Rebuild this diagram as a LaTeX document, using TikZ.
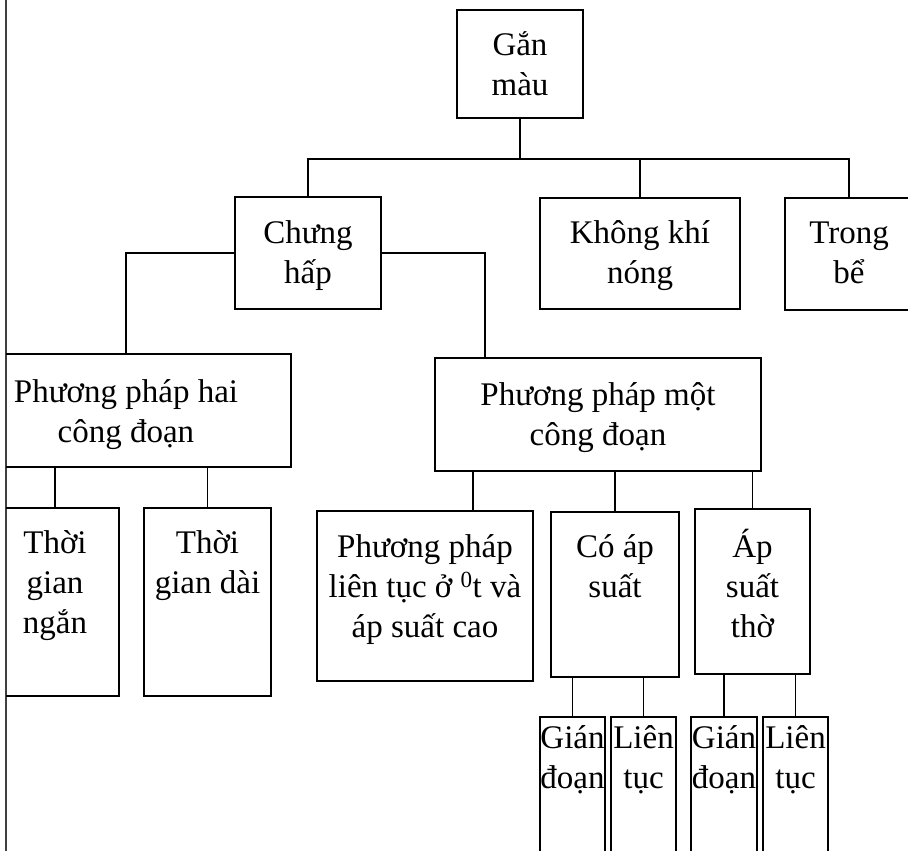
\documentclass[tikz,border=0pt]{standalone}
\usepackage{fontspec}
\setmainfont{Liberation Serif}
\usetikzlibrary{
    positioning,
    calc
}
\newcommand{\boxtext}[4]{\parbox[t][#2pt][t]{#1pt}{\centering\vspace*{#3pt}\strut #4}}

\begin{document}
\begin{tikzpicture}[
        x=1pt, y=-1pt,
        block/.style={draw, line width=1.8pt, inner sep=0pt, font=\fontsize{33}{40}\selectfont},
        link/.style={line width=1.4pt}
    ]
        \useasboundingbox (0,0) rectangle (908,851);

        % Page edge
        \coordinate (edgetop) at (6,0);
        \coordinate (edgebot) at (6,851);
        \draw[line width=1.5pt, black!75] (edgetop) -- (edgebot);

        \begin{scope}
        \clip (6,0) rectangle (908,851);

        % Root
        \node[block] (root) at (520,64) {\boxtext{126}{108}{18}{Gắn\\màu}};

        % First level
        \node[block] (chung) at (308,253) {\boxtext{146}{112}{18}{Chưng\\hấp}};
        \node[block] (khong) at (640,253.5) {\boxtext{200}{111}{17}{Không khí\\nóng}};
        \node[block] (trong) at (849,254) {\boxtext{128}{112}{17}{Trong\\bể}};

        % Steaming methods
        \node[block] (hai) at (126,410.5) {\boxtext{330}{113}{20}{Phương pháp hai\\công đoạn}};
        \node[block] (mot) at (598,414.5) {\boxtext{326}{113}{19}{Phương pháp một\\công đoạn}};

        % Two stage
        \node[block] (tgngan) at (55,602) {\boxtext{128}{188}{17}{Thời\\gian\\ngắn}};
        \node[block] (tgdai) at (207.5,602) {\boxtext{127}{188}{17}{Thời\\gian dài}};

        % One stage
        \node[block] (lientuc) at (425,596) {\boxtext{216}{170}{18}{Phương pháp\\liên tục ở \textsuperscript{0}t và\\áp suất cao}};
        \node[block] (coap) at (615,594.5) {\boxtext{128}{165}{17}{Có áp\\suất}};
        \node[block] (apthuong) at (752.5,591.5) {\boxtext{115}{165}{20}{Áp\\suất\\thờ}};

        % Batch / continuous
        \node[block] (gd1) at (572.5,800) {\boxtext{65}{166}{3}{Gián\\đoạn}};
        \node[block] (lt1) at (643.5,800) {\boxtext{65}{166}{3}{Liên\\tục}};
        \node[block] (gd2) at (724,800) {\boxtext{66}{166}{3}{Gián\\đoạn}};
        \node[block] (lt2) at (795.5,800) {\boxtext{65}{166}{3}{Liên\\tục}};

        % Links
        \coordinate (bar) at (0,159);
        \draw[link] (root.south) -- (root.south |- bar);
        \draw[link] (chung.north) |- (root.south |- bar) -| (trong.north);
        \draw[link] (khong.north) -- (khong.north |- bar);
        \draw[link] (chung.west) -| (hai.north);
        \draw[link] (chung.east) -| ([xshift=51pt]mot.north west);
        \draw[link] (tgngan.north) -- (tgngan.north |- hai.south);
        \draw[link] (tgdai.north) -- (tgdai.north |- hai.south);
        \draw[link] ([xshift=48pt]lientuc.north) -- ++(0,-40);
        \draw[link] (coap.north) -- (coap.north |- mot.south);
        \draw[link] (apthuong.north) -- (apthuong.north |- mot.south);
        \draw[link] (gd1.north) -- (gd1.north |- coap.south);
        \draw[link] (lt1.north) -- (lt1.north |- coap.south);
        \draw[link] (gd2.north) -- (gd2.north |- apthuong.south);
        \draw[link] (lt2.north) -- (lt2.north |- apthuong.south);
        \end{scope}
    \end{tikzpicture}
\end{document}
